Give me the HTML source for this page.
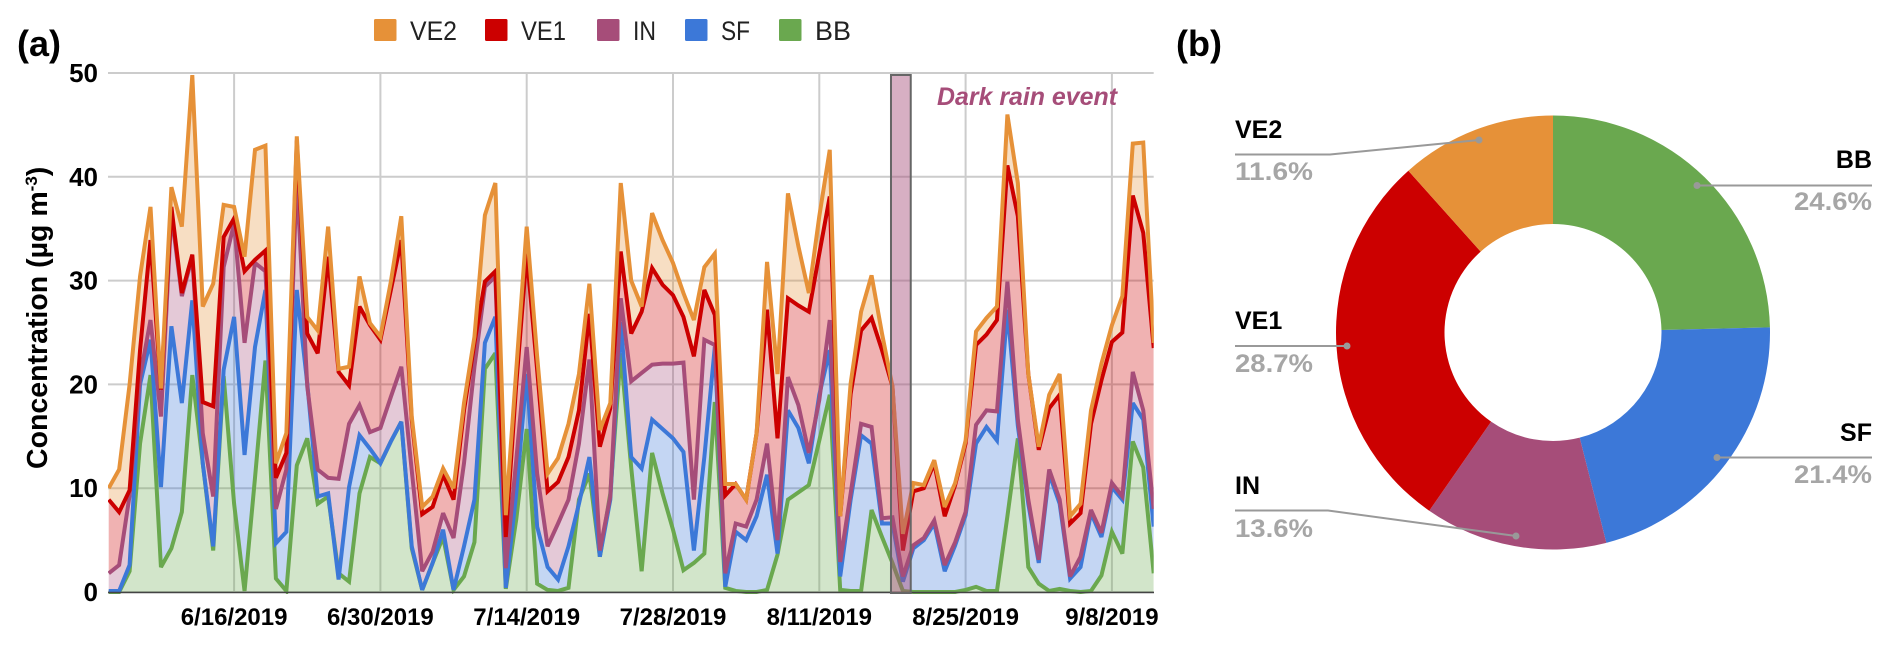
<!DOCTYPE html>
<html lang="en">
<head>
<meta charset="utf-8">
<title>Concentration time series and source shares</title>
<style>
  html, body { margin: 0; padding: 0; background: #fff; }
  svg { display: block; font-family: "Liberation Sans", sans-serif; }
</style>
</head>
<body>
<svg id="figure" xmlns="http://www.w3.org/2000/svg" width="1892" height="648" viewBox="0 0 1892 648">
  <defs>
    <clipPath id="plot-clip"><rect x="108" y="60" width="1045.7" height="534"/></clipPath>
  </defs>
  <text x="17" y="56" font-size="36" font-weight="700" fill="#000">(a)</text>
  <text x="1176" y="56" font-size="36" font-weight="700" fill="#000">(b)</text>
  <text transform="translate(47,469) rotate(-90)" font-size="28.5" font-weight="700" fill="#000">Concentration (µg m<tspan font-size="17" dy="-10">-3</tspan><tspan dy="10">)</tspan></text>
  <g id="grid"></g>
  <g id="bands" clip-path="url(#plot-clip)"></g>
  <g id="lines" clip-path="url(#plot-clip)"></g>
  <line x1="108" y1="592.5" x2="1154" y2="592.5" stroke="#444" stroke-width="1.5"/>
  <g id="yticks"></g>
  <g id="xticks"></g>
  <g id="event"></g>
  <text x="937" y="105" font-size="25" font-weight="700" font-style="italic" fill="#A64D79" textLength="180" lengthAdjust="spacingAndGlyphs">Dark rain event</text>

  <g id="legend"></g>

  <g id="pie"></g>

  <g font-size="25" font-weight="700">
    <polyline points="1235,154.5 1330,154.5 1479,140" fill="none" stroke="#999" stroke-width="2"/>
    <circle cx="1479" cy="140" r="3.5" fill="#999"/>
    <text x="1235" y="138" fill="#000">VE2</text>
    <text x="1235" y="180" fill="#A6A6A6" textLength="78" lengthAdjust="spacingAndGlyphs">11.6%</text>

    <polyline points="1235,346 1347,346" fill="none" stroke="#999" stroke-width="2"/>
    <circle cx="1347" cy="346" r="3.5" fill="#999"/>
    <text x="1235" y="329" fill="#000">VE1</text>
    <text x="1235" y="372" fill="#A6A6A6" textLength="78" lengthAdjust="spacingAndGlyphs">28.7%</text>

    <polyline points="1235,510.5 1328,510.5 1516,536" fill="none" stroke="#999" stroke-width="2"/>
    <circle cx="1516" cy="536" r="3.5" fill="#999"/>
    <text x="1235" y="494" fill="#000">IN</text>
    <text x="1235" y="537" fill="#A6A6A6" textLength="78" lengthAdjust="spacingAndGlyphs">13.6%</text>

    <polyline points="1872,185.5 1697,185.5" fill="none" stroke="#999" stroke-width="2"/>
    <circle cx="1697" cy="185.5" r="3.5" fill="#999"/>
    <text x="1872" y="168" text-anchor="end" fill="#000">BB</text>
    <text x="1872" y="210" text-anchor="end" fill="#A6A6A6" textLength="78" lengthAdjust="spacingAndGlyphs">24.6%</text>

    <polyline points="1872,457.5 1717,457.5" fill="none" stroke="#999" stroke-width="2"/>
    <circle cx="1717" cy="457.5" r="3.5" fill="#999"/>
    <text x="1872" y="441" text-anchor="end" fill="#000">SF</text>
    <text x="1872" y="483" text-anchor="end" fill="#A6A6A6" textLength="78" lengthAdjust="spacingAndGlyphs">21.4%</text>
  </g>
</svg>

<script>
// Plotted (stacked) level of each series, one value per day starting 6/4/2019.
const valuesVE2 = [10,11.8,20,30.4,37.1,19.6,39,35.2,49.8,27.5,
  29.7,37.3,37.1,32.3,42.6,43,12.4,15.3,43.9,26.5,
  25.2,35.2,21.5,21.7,30.4,25.9,24.6,29.9,36.2,16.9,
  8.2,9.2,11.9,10,18.2,24.6,36.3,39.4,7.4,21.4,
  35.2,22.7,11.4,12.9,16.2,21,29.7,15.6,18.2,39.4,
  30,27.5,36.5,33.9,31.7,28.8,26.2,31.3,32.6,10.4,
  10.4,8.9,15.3,31.8,21,38.4,33.3,28.8,36.2,42.6,
  7.3,20.1,27,30.5,24.9,19.8,5.6,10.5,10.3,12.7,
  8.2,10.5,14.6,25.1,26.4,27.5,46,39.4,21,14,
  19,21,7.3,8.5,17.5,22,25.7,28.5,43.2,43.3,24];
const valuesVE1 = [8.9,7.7,9.8,23.3,33.9,19.5,37.1,28.8,32.5,18.3,
  17.9,34.2,36,30.9,32,32.9,11,13.4,43.5,24.9,
  23,32.3,21.2,19.9,27.5,25.7,24.3,29.1,33.9,16.6,
  7.5,8.2,11.3,8.9,17.5,24,29.9,30.9,5.3,20,
  32.6,21.4,9.7,10.6,13,17.5,26.8,14,17.7,32.8,
  24.9,27,31.2,29.6,28.6,26.5,22.7,29.1,26.7,9.3,
  10.4,8.9,15.3,27.2,14.8,28.3,27.6,27,32.6,38.1,
  7.3,19.1,25.2,26.4,23.3,19.8,4,9.7,10,12.4,
  7.3,10.3,14.3,23.8,24.8,26.2,41.1,36.2,21,13.7,
  17.7,19,6.6,7.6,16.2,20.4,24.1,25,38.2,34.6,23.5];
const valuesIN = [1.8,2.6,9.3,20.7,26.2,16.9,36.5,28.5,32.3,15.3,
  9.2,31.3,35.5,24,31.7,30.9,8,11.8,40,19.8,
  11.8,11,10.9,16.2,18,15.4,15.8,18.8,21.7,11.7,
  2,3.9,7.6,5.2,12.4,21.7,29.4,30.4,2.3,12.7,
  23.6,11.4,4.4,6.6,8.9,14.3,22.4,4,9.2,28.3,
  20.3,21.1,21.9,22,22,22.1,8.9,24.3,23.8,1.8,
  6.6,6.3,8.9,14.3,5,20.7,18,13.4,18.5,26.2,
  2.9,9.5,16.2,15.9,7.1,7.2,1.5,4.5,5.2,6.9,
  2.6,4.8,7.7,16.1,17.5,17.4,29.9,16.6,8.9,3.1,
  11.8,8.9,1.5,3.4,7.9,5.7,10.5,9.2,21.2,17.5,8];
const valuesSF = [0.1,0.1,2.6,20,24.3,10.1,25.6,18.2,28.1,12.4,
  4.4,21.4,26.5,13.2,23.6,29.1,4.7,5.8,29.1,20.1,
  9.2,9.5,1.2,10.1,15.1,13.8,12.4,14.5,16.4,4.4,
  0.2,2.8,6,0.2,4.4,8.9,24,26.5,0.4,9.5,
  21,6.3,2.4,1.2,4.4,8.5,13,3.4,8.9,26,
  13,11.9,16.6,15.7,14.8,13.5,4,13,23.6,0.5,
  5.8,5,7.3,11.3,3.7,17.5,15.8,12.4,19,23.3,
  1.5,8.9,15.1,14.3,6.6,6.6,1,4.2,5,6.6,
  2,4.5,7.4,14.3,15.9,14.6,27.2,16,8.5,2.8,
  11.4,8.5,1.3,2.4,7.6,5.3,10.1,8.9,18.2,16.6,6.3];
const valuesBB = [0,0,2,14.3,20.9,2.4,4.2,7.7,20.9,12.4,
  4,20.8,8.5,0.1,11,22.3,1.3,0.1,12.2,14.8,
  8.5,9.2,1.8,1,9.5,13,12.4,14.5,16.4,4.2,
  0.2,2.8,5.3,0.2,1.5,4.8,21.5,23,0.3,7,
  15.7,0.8,0.2,0.1,0.4,8.9,11.4,3.4,9.5,23,
  12,2,13.4,9.5,6,2.1,2.8,3.7,18.3,0.4,
  0.1,0,0,0.2,3.6,8.9,9.6,10.3,14.6,19,
  0.2,0.1,0.1,7.9,5.3,2.8,0.1,0,0,0,
  0,0,0.2,0.5,0.1,0.1,7.3,14.8,2.4,0.8,
  0.1,0.3,0.1,0,0.1,1.6,5.8,3.7,14.5,12,1.8];

const yTickValues = [0, 10, 20, 30, 40, 50];
const xTickDays = [12, 26, 40, 54, 68, 82, 96];
const xTickLabels = ['6/16/2019','6/30/2019','7/14/2019','7/28/2019','8/11/2019','8/25/2019','9/8/2019'];
const darkRainDays = [74.86, 76.75];

const legendNames = ['VE2', 'VE1', 'IN', 'SF', 'BB'];
const legendColors = ['#E69138', '#CC0000', '#A64D79', '#3C78D8', '#6AA84F'];

const pieNames = ['BB', 'SF', 'IN', 'VE1', 'VE2'];
const pieShares = [24.6, 21.4, 13.6, 28.7, 11.6];
const pieColors = ['#6AA84F', '#3C78D8', '#A64D79', '#CC0000', '#E69138'];

const NS = 'http://www.w3.org/2000/svg';
const xScale = function (day) { return 108.7 + 10.45 * day; };
const yScale = function (v) { return 592 - 10.38 * v; };

function make(tag, parent) {
  const el = document.createElementNS(NS, tag);
  parent.appendChild(el);
  return el;
}

// Gridlines
const gridGroup = document.getElementById('grid');
yTickValues.forEach(function (v) {
  const ln = make('line', gridGroup);
  
  
  ln.setAttribute('x1', 108);
  ln.setAttribute('x2', 1153.7);
  ln.setAttribute('y1', yScale(v));
  ln.setAttribute('y2', yScale(v));
  ln.setAttribute('stroke', '#CCCCCC');
  ln.setAttribute('stroke-width', 2);
});
xTickDays.forEach(function (d) {
  const ln = make('line', gridGroup);
  
  
  ln.setAttribute('x1', xScale(d));
  ln.setAttribute('x2', xScale(d));
  ln.setAttribute('y1', yScale(50));
  ln.setAttribute('y2', yScale(0));
  ln.setAttribute('stroke', '#CCCCCC');
  ln.setAttribute('stroke-width', 2);
});

// Tick labels
const yTickGroup = document.getElementById('yticks');
yTickValues.forEach(function (v) {
  const t = make('text', yTickGroup);
  
  
  t.setAttribute('x', 98);
  t.setAttribute('y', yScale(v) + 9);
  t.setAttribute('text-anchor', 'end');
  t.setAttribute('font-size', 26);
  t.setAttribute('font-weight', 700);
  t.setAttribute('fill', '#000');
  t.textContent = String(v);
});
const xTickGroup = document.getElementById('xticks');
xTickDays.forEach(function (d, i) {
  const t = make('text', xTickGroup);
  
  
  t.setAttribute('x', xScale(d));
  t.setAttribute('y', 625);
  t.setAttribute('text-anchor', 'middle');
  t.setAttribute('font-size', 24);
  t.setAttribute('font-weight', 700);
  t.setAttribute('fill', '#000');
  t.textContent = xTickLabels[i];
});

// Areas and lines, drawn bottom of the stack first
const stackLevels = [valuesBB, valuesSF, valuesIN, valuesVE1, valuesVE2];
const stackColors = ['#6AA84F', '#3C78D8', '#A64D79', '#CC0000', '#E69138'];
const stackKeys = ['bb', 'sf', 'in', 've1', 've2'];
const bandGroup = document.getElementById('bands');
const lineGroup = document.getElementById('lines');

stackLevels.forEach(function (level, k) {
  const upper = level.map(function (v, i) { return xScale(i) + ',' + yScale(v); });
  const lowerSource = k === 0 ? level.map(function () { return 0; }) : stackLevels[k - 1];
  const lower = lowerSource.map(function (v, i) { return xScale(i) + ',' + yScale(v); }).reverse();
  const band = make('polygon', bandGroup);
  
  
  band.setAttribute('points', upper.concat(lower).join(' '));
  band.setAttribute('fill', stackColors[k]);
  band.setAttribute('fill-opacity', 0.3);
});
stackLevels.forEach(function (level, k) {
  const line = make('polyline', lineGroup);
  
  
  line.setAttribute('points', level.map(function (v, i) { return xScale(i) + ',' + yScale(v); }).join(' '));
  line.setAttribute('fill', 'none');
  line.setAttribute('stroke', stackColors[k]);
  line.setAttribute('stroke-width', 4);
  line.setAttribute('stroke-linejoin', 'miter');
  line.setAttribute('stroke-miterlimit', 3);
});

// Dark rain event band
const eventRect = make('rect', document.getElementById('event'));


eventRect.setAttribute('x', xScale(darkRainDays[0]));
eventRect.setAttribute('y', 75);
eventRect.setAttribute('width', xScale(darkRainDays[1]) - xScale(darkRainDays[0]));
eventRect.setAttribute('height', 518);
eventRect.setAttribute('fill', 'rgba(166,77,121,0.45)');
eventRect.setAttribute('stroke', '#666');
eventRect.setAttribute('stroke-width', 2);

// Legend
const legendGroup = document.getElementById('legend');
const legendSwatchX = [374, 485, 597, 685, 779];
const legendTextWidth = [47, 45, 23, 29, 36];
legendNames.forEach(function (name, i) {
  const sw = make('rect', legendGroup);
  
  
  sw.setAttribute('x', legendSwatchX[i]);
  sw.setAttribute('y', 19);
  sw.setAttribute('width', 22.5);
  sw.setAttribute('height', 22);
  sw.setAttribute('rx', 1.5);
  sw.setAttribute('fill', legendColors[i]);
  const t = make('text', legendGroup);
  
  
  t.setAttribute('x', legendSwatchX[i] + 36);
  t.setAttribute('y', 40);
  t.setAttribute('font-size', 27);
  t.setAttribute('fill', '#222');
  t.setAttribute('textLength', legendTextWidth[i]);
  t.setAttribute('lengthAdjust', 'spacingAndGlyphs');
  t.textContent = name;
});

// Donut
const pieGroup = document.getElementById('pie');
const pieTotal = pieShares.reduce(function (a, b) { return a + b; }, 0);
let pieCum = 0;
pieShares.forEach(function (share, i) {
  const a0 = pieCum / pieTotal * 2 * Math.PI;
  pieCum += share;
  const a1 = pieCum / pieTotal * 2 * Math.PI;
  const cx = 1553, cy = 332.5, R = 217, r = 108.5;
  const large = (a1 - a0) > Math.PI ? 1 : 0;
  const p = [
    'M', cx + R * Math.sin(a0), cy - R * Math.cos(a0),
    'A', R, R, 0, large, 1, cx + R * Math.sin(a1), cy - R * Math.cos(a1),
    'L', cx + r * Math.sin(a1), cy - r * Math.cos(a1),
    'A', r, r, 0, large, 0, cx + r * Math.sin(a0), cy - r * Math.cos(a0),
    'Z'
  ].join(' ');
  const slice = make('path', pieGroup);
  
  
  slice.setAttribute('d', p);
  slice.setAttribute('fill', pieColors[i]);
});
</script>
</body>
</html>
